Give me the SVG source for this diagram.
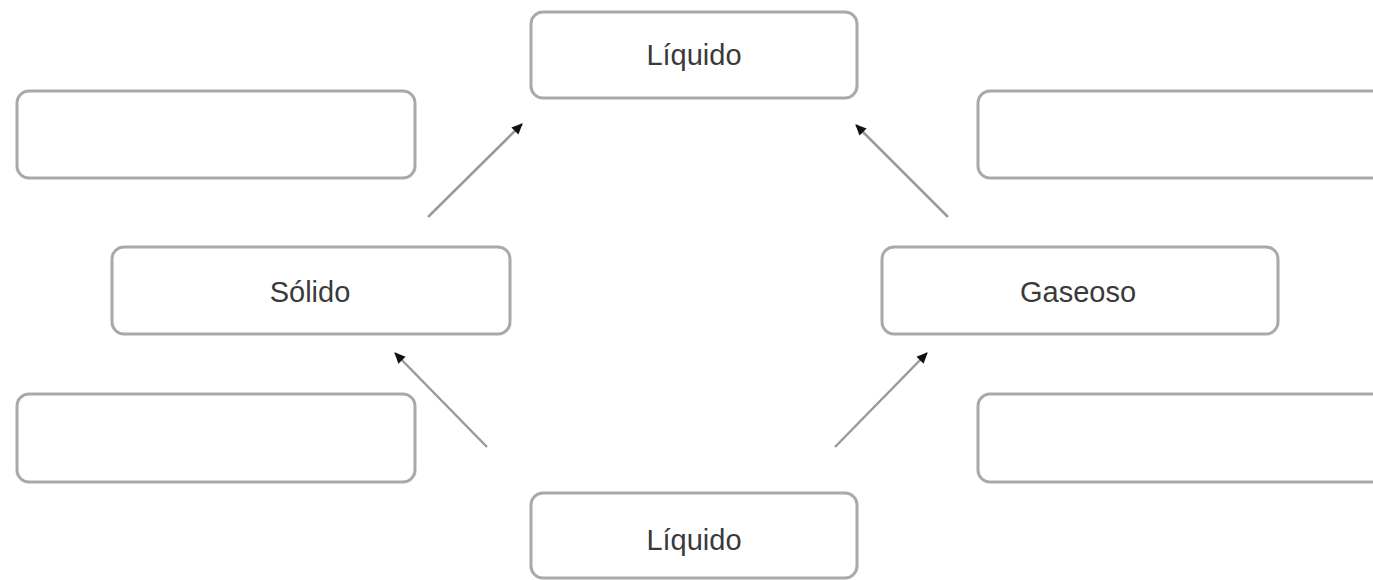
<svg xmlns="http://www.w3.org/2000/svg" width="1373" height="580" viewBox="0 0 1373 580">
<style>
.box{fill:#fff;stroke:#a9a9a9;stroke-width:3}
.lbl{font-family:"Liberation Sans",Arial,sans-serif;font-size:29px;fill:#3a3a3a;text-anchor:middle;dominant-baseline:central}
.conn{stroke:#9a9a9a;stroke-width:2.5;fill:none;marker-end:url(#ah)}
</style>
<defs>
<marker id="ah" markerUnits="userSpaceOnUse" markerWidth="12" markerHeight="12" viewBox="0 0 12 12" refX="10" refY="6" orient="auto">
<path d="M0,1 L11,6 L0,11 Z" fill="#111"/>
</marker>
</defs>
<rect width="1373" height="580" fill="#fff"/>
<g id="liquido-top"><rect class="box" x="531" y="12" width="326" height="86" rx="12"/><text class="lbl" x="694" y="55">Líquido</text></g>
<g id="empty-left-top"><rect class="box" x="17" y="91" width="398" height="87" rx="12"/></g>
<g id="empty-right-top"><rect class="box" x="978" y="91" width="420" height="87" rx="12"/></g>
<g id="solido"><rect class="box" x="112" y="247" width="398" height="87" rx="12"/><text class="lbl" x="310" y="292">Sólido</text></g>
<g id="gaseoso"><rect class="box" x="882" y="247" width="396" height="87" rx="12"/><text class="lbl" x="1078" y="292">Gaseoso</text></g>
<g id="empty-left-bottom"><rect class="box" x="17" y="394" width="398" height="88" rx="12"/></g>
<g id="empty-right-bottom"><rect class="box" x="978" y="394" width="420" height="88" rx="12"/></g>
<g id="liquido-bottom"><rect class="box" x="531" y="493" width="326" height="85" rx="12"/><text class="lbl" x="694" y="540">Líquido</text></g>
<g id="connectors">
<line class="conn" x1="428" y1="217" x2="522" y2="124"/>
<line class="conn" x1="948" y1="217" x2="856" y2="125"/>
<line class="conn" x1="487" y1="447" x2="395" y2="353"/>
<line class="conn" x1="835" y1="447" x2="927" y2="353"/>
</g>
</svg>
